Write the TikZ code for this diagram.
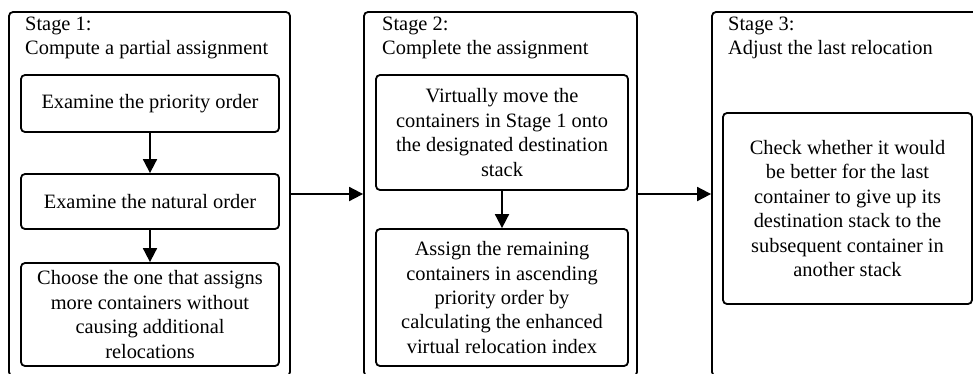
\documentclass[tikz,border=0pt]{standalone}
\usepackage{fontspec}
\setmainfont{Liberation Serif}
\usetikzlibrary{arrows.meta}
\begin{document}
\begin{tikzpicture}[x=1pt,y=-1pt,
  stagebox/.style={draw, line width=1.8pt, rounded corners=4pt, inner sep=0pt},
  stepbox/.style={draw, line width=1.8pt, rounded corners=4pt, inner sep=0pt, align=center, font=\fontsize{20.4}{24.4}\selectfont},
  title/.style={anchor=north west, inner sep=0pt, align=left, font=\fontsize{20.4}{24.4}\selectfont},
  flow/.style={line width=1.8pt, -{Triangle[length=14pt,width=14pt]}}]
\useasboundingbox (0,0) rectangle (973,373);
\clip (0,0) rectangle (973,373);
% stage frames
\node[stagebox, minimum width=281pt, minimum height=364pt] (s1) at (149.5,194) {};
\node[stagebox, minimum width=273pt, minimum height=364pt] (s2) at (500.5,194) {};
\node[stagebox, minimum width=300pt, minimum height=364pt] (s3) at (862,194) {};
% titles
\node[title] (t1) at (25,16.5) {Stage 1:\\Compute a partial assignment};
\node[title] (t2) at (382,16.5) {Stage 2:\\Complete the assignment};
\node[title] (t3) at (728,16.5) {Stage 3:\\Adjust the last relocation};
% stage 1 steps
\node[stepbox, minimum width=258pt, minimum height=57pt] (b1) at (150,103.5) {Examine the priority order};
\node[stepbox, minimum width=258pt, minimum height=55pt] (b2) at (150,201.5) {Examine the natural order};
\node[stepbox, minimum width=258pt, minimum height=103pt] (b3) at (150,314.5) {Choose the one that assigns\\more containers without\\causing additional\\relocations};
% stage 2 steps
\node[stepbox, minimum width=252pt, minimum height=115pt] (bA) at (502,132.5) {Virtually move the\\containers in Stage 1 onto\\the designated destination\\stack};
\node[stepbox, minimum width=252pt, minimum height=137pt] (bB) at (502,297.5) {Assign the remaining\\containers in ascending\\priority order by\\calculating the enhanced\\virtual relocation index};
% stage 3 step
\node[stepbox, minimum width=249pt, minimum height=191pt] (bC) at (847.5,208.5) {Check whether it would\\be better for the last\\container to give up its\\destination stack to the\\subsequent container in\\another stack};
% connectors
\draw[flow] (b1) -- (b2);
\draw[flow] (b2) -- (b3);
\draw[flow] (bA) -- (bB);
\draw[flow] (s1.east) -- (s2.west);
\draw[flow] (s2.east) -- (s3.west);
\end{tikzpicture}
\end{document}
